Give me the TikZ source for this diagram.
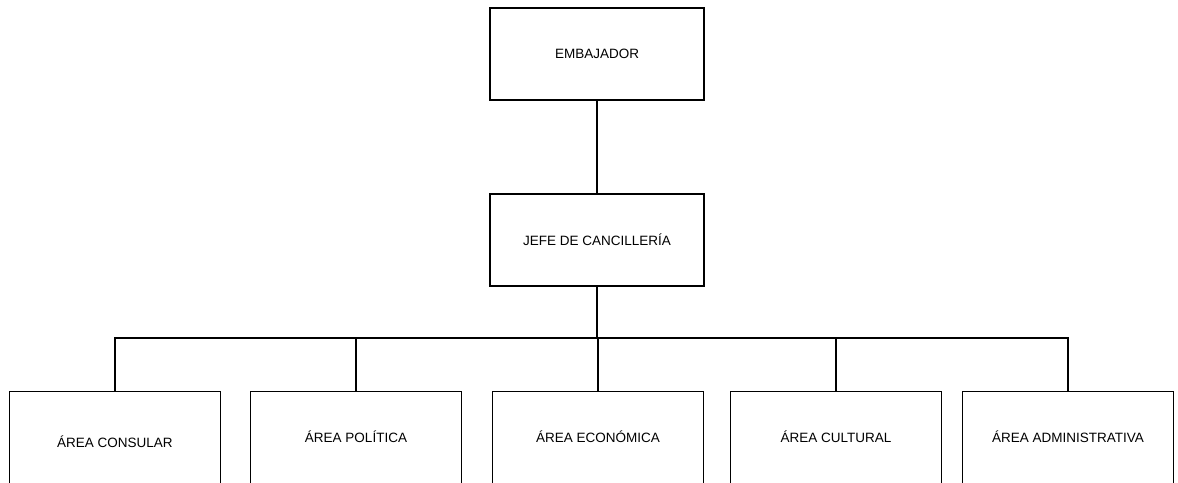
\documentclass[tikz,border=0pt]{standalone}
\usepackage{fontspec}
\setmainfont{Liberation Sans}
\usepackage{tikz}

\newcommand{\subir}[1]{\raisebox{5pt}[\height][\depth]{#1}}

\begin{document}
\begin{tikzpicture}[x=1pt,y=-1pt,line width=1.2pt,
    caja/.style={draw,rectangle,minimum width=214pt,minimum height=92pt,
      inner sep=0pt,font=\fontsize{13.5}{16}\selectfont},
    area/.style={caja,anchor=north,minimum width=211pt,minimum height=100pt}]
    \clip (0,0) rectangle (1178,482);
    \node [caja] (emb) at (597,54) {EMBAJADOR};
    \node [caja] (jefe) at (597,240) {JEFE DE CANCILLERÍA};
    \node [area] (consular) at (115,391) {ÁREA CONSULAR};
    \node [area] (politica) at (356,391) {\subir{ÁREA POLÍTICA}};
    \node [area] (economica) at (598,391) {\subir{ÁREA ECONÓMICA}};
    \node [area] (cultural) at (836,391) {\subir{ÁREA CULTURAL}};
    \node [area] (admin) at (1068,391) {\subir{ÁREA ADMINISTRATIVA}};
    \coordinate (rama) at (597,338);
    \draw (emb) -- (jefe);
    \draw (jefe) -- (rama);
    \foreach \hijo in {consular,politica,economica,cultural,admin}
      \draw (rama) -| (\hijo.north);
\end{tikzpicture}
\end{document}
